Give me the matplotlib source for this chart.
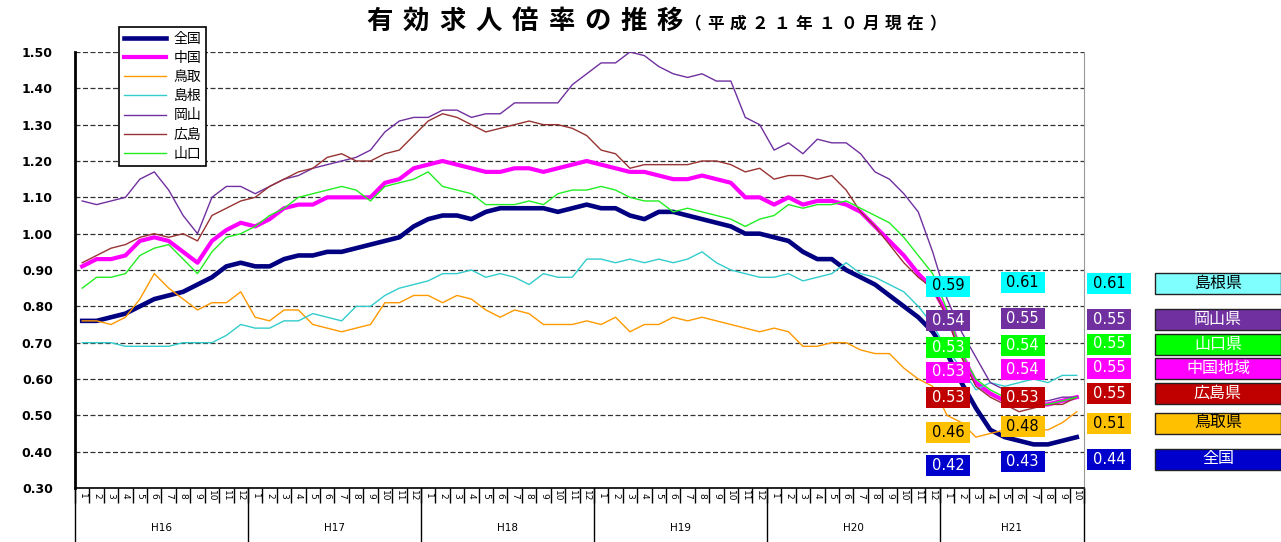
import numpy as np
import matplotlib.pyplot as plt
from matplotlib.patches import Rectangle
from matplotlib.lines import Line2D
import matplotlib.transforms as mtransforms

plt.rcParams['font.family'] = ['DejaVu Sans', 'Noto Sans CJK JP']

# H16/1 .. H21/10
years = ['H16', 'H17', 'H18', 'H19', 'H20', 'H21']
months_per_year = [12, 12, 12, 12, 12, 10]

zenkoku = [0.76, 0.76, 0.77, 0.78, 0.80, 0.82, 0.83, 0.84, 0.86, 0.88, 0.91, 0.92,
           0.91, 0.91, 0.93, 0.94, 0.94, 0.95, 0.95, 0.96, 0.97, 0.98, 0.99, 1.02,
           1.04, 1.05, 1.05, 1.04, 1.06, 1.07, 1.07, 1.07, 1.07, 1.06, 1.07, 1.08,
           1.07, 1.07, 1.05, 1.04, 1.06, 1.06, 1.05, 1.04, 1.03, 1.02, 1.00, 1.00,
           0.99, 0.98, 0.95, 0.93, 0.93, 0.90, 0.88, 0.86, 0.83, 0.80, 0.77, 0.73,
           0.67, 0.59, 0.52, 0.46, 0.44, 0.43, 0.42, 0.42, 0.43, 0.44]
chugoku = [0.91, 0.93, 0.93, 0.94, 0.98, 0.99, 0.98, 0.95, 0.92, 0.98, 1.01, 1.03,
           1.02, 1.04, 1.07, 1.08, 1.08, 1.10, 1.10, 1.10, 1.10, 1.14, 1.15, 1.18,
           1.19, 1.20, 1.19, 1.18, 1.17, 1.17, 1.18, 1.18, 1.17, 1.18, 1.19, 1.20,
           1.19, 1.18, 1.17, 1.17, 1.16, 1.15, 1.15, 1.16, 1.15, 1.14, 1.10, 1.10,
           1.08, 1.10, 1.08, 1.09, 1.09, 1.08, 1.06, 1.02, 0.98, 0.94, 0.89, 0.85,
           0.78, 0.67, 0.59, 0.56, 0.54, 0.53, 0.53, 0.53, 0.54, 0.55]
tottori = [0.76, 0.76, 0.75, 0.77, 0.82, 0.89, 0.85, 0.82, 0.79, 0.81, 0.81, 0.84,
           0.77, 0.76, 0.79, 0.79, 0.75, 0.74, 0.73, 0.74, 0.75, 0.81, 0.81, 0.83,
           0.83, 0.81, 0.83, 0.82, 0.79, 0.77, 0.79, 0.78, 0.75, 0.75, 0.75, 0.76,
           0.75, 0.77, 0.73, 0.75, 0.75, 0.77, 0.76, 0.77, 0.76, 0.75, 0.74, 0.73,
           0.74, 0.73, 0.69, 0.69, 0.70, 0.70, 0.68, 0.67, 0.67, 0.63, 0.60, 0.58,
           0.50, 0.48, 0.44, 0.45, 0.46, 0.46, 0.46, 0.46, 0.48, 0.51]
shimane = [0.70, 0.70, 0.70, 0.69, 0.69, 0.69, 0.69, 0.70, 0.70, 0.70, 0.72, 0.75,
           0.74, 0.74, 0.76, 0.76, 0.78, 0.77, 0.76, 0.80, 0.80, 0.83, 0.85, 0.86,
           0.87, 0.89, 0.89, 0.90, 0.88, 0.89, 0.88, 0.86, 0.89, 0.88, 0.88, 0.93,
           0.93, 0.92, 0.93, 0.92, 0.93, 0.92, 0.93, 0.95, 0.92, 0.90, 0.89, 0.88,
           0.88, 0.89, 0.87, 0.88, 0.89, 0.92, 0.89, 0.88, 0.86, 0.84, 0.80, 0.75,
           0.68, 0.63, 0.57, 0.59, 0.58, 0.59, 0.60, 0.59, 0.61, 0.61]
okayama = [1.09, 1.08, 1.09, 1.10, 1.15, 1.17, 1.12, 1.05, 1.00, 1.10, 1.13, 1.13,
           1.11, 1.13, 1.15, 1.16, 1.18, 1.19, 1.20, 1.21, 1.23, 1.28, 1.31, 1.32,
           1.32, 1.34, 1.34, 1.32, 1.33, 1.33, 1.36, 1.36, 1.36, 1.36, 1.41, 1.44,
           1.47, 1.47, 1.50, 1.49, 1.46, 1.44, 1.43, 1.44, 1.42, 1.42, 1.32, 1.30,
           1.23, 1.25, 1.22, 1.26, 1.25, 1.25, 1.22, 1.17, 1.15, 1.11, 1.06, 0.95,
           0.82, 0.73, 0.66, 0.59, 0.57, 0.55, 0.54, 0.54, 0.55, 0.55]
hiroshima = [0.92, 0.94, 0.96, 0.97, 0.99, 1.00, 0.99, 1.00, 0.98, 1.05, 1.07, 1.09,
             1.10, 1.13, 1.15, 1.17, 1.18, 1.21, 1.22, 1.20, 1.20, 1.22, 1.23, 1.27,
             1.31, 1.33, 1.32, 1.30, 1.28, 1.29, 1.30, 1.31, 1.30, 1.30, 1.29, 1.27,
             1.23, 1.22, 1.18, 1.19, 1.19, 1.19, 1.19, 1.20, 1.20, 1.19, 1.17, 1.18,
             1.15, 1.16, 1.16, 1.15, 1.16, 1.12, 1.06, 1.02, 0.97, 0.92, 0.88, 0.85,
             0.77, 0.66, 0.58, 0.55, 0.53, 0.51, 0.52, 0.53, 0.53, 0.55]
yamaguchi = [0.85, 0.88, 0.88, 0.89, 0.94, 0.96, 0.97, 0.93, 0.89, 0.95, 0.99, 1.00,
             1.02, 1.05, 1.07, 1.10, 1.11, 1.12, 1.13, 1.12, 1.09, 1.13, 1.14, 1.15,
             1.17, 1.13, 1.12, 1.11, 1.08, 1.08, 1.08, 1.09, 1.08, 1.11, 1.12, 1.12,
             1.13, 1.12, 1.10, 1.09, 1.09, 1.06, 1.07, 1.06, 1.05, 1.04, 1.02, 1.04,
             1.05, 1.08, 1.07, 1.08, 1.08, 1.09, 1.07, 1.05, 1.03, 0.99, 0.94, 0.89,
             0.79, 0.67, 0.60, 0.57, 0.55, 0.53, 0.53, 0.53, 0.54, 0.55]

names = ['全国', '中国', '鳥取', '島根', '岡山', '広島', '山口']
values = [zenkoku, chugoku, tottori, shimane, okayama, hiroshima, yamaguchi]
colors = ['#000080', '#FF00FF', '#FF9900', '#33CCCC', '#7030A0', '#993333', '#22EE22']
widths = [3.3, 3.0, 1.0, 1.0, 1.0, 1.0, 1.0]

# boxes on the right, top to bottom
box_order = ['島根', '岡山', '山口', '中国', '広島', '鳥取', '全国']
box_names = ['島根県', '岡山県', '山口県', '中国地域', '広島県', '鳥取県', '全国']
box_fc = ['#00FFFF', '#7030A0', '#00FF00', '#FF00FF', '#C00000', '#FFC000', '#0000CC']
box_tc = ['black', 'white', 'white', 'white', 'white', 'black', 'white']

W, H = 1281, 542
fig = plt.figure(figsize=(W / 100, H / 100), dpi=100)


def fx(x):
    return x / W


def fy(y):
    return 1 - y / H


ax = fig.add_axes([fx(75), fy(488), (1084 - 75) / W, (488 - 52) / H])

months = [m for n in months_per_year for m in range(1, n + 1)]
x = np.arange(len(months))

lines = []
for name, v, c, lw in zip(names, values, colors, widths):
    ln, = ax.plot(x, v, color=c, lw=lw, label=name, solid_joinstyle='round')
    lines.append(ln)

ax.set_xlim(-0.5, len(months) - 0.5)
ax.set_ylim(0.3, 1.5)
yt = np.round(np.arange(0.3, 1.501, 0.1), 2)
ax.set_yticks(yt)
ax.set_yticklabels([f'{t:.2f}' for t in yt], fontsize=9, fontweight='bold')
ax.tick_params(axis='y', length=0, pad=16)
ax.yaxis.grid(True, linestyle=(0, (4, 2)), color='#333333', linewidth=0.9)
ax.set_axisbelow(True)

ax.set_xticks(np.arange(-0.5, len(months), 1))
ax.tick_params(axis='x', length=11, width=1, labelbottom=False)

ax.spines['top'].set_visible(False)
ax.spines['right'].set_color('#999999')
ax.spines['left'].set_linewidth(2)
ax.spines['bottom'].set_linewidth(1.2)

trans = mtransforms.blended_transform_factory(ax.transData, ax.transAxes)
for i, m in enumerate(months):
    ax.text(i, -0.017, str(m), transform=trans, rotation=-90, ha='center',
            va='center', fontsize=6.5)

start = 0
for yname, n in zip(years, months_per_year):
    b = start - 0.5
    ax.add_line(Line2D([b, b], [0, -0.13], transform=trans, clip_on=False,
                       color='black', lw=1))
    ax.text(start + (n - 1) / 2, -0.092, yname, transform=trans, ha='center',
            va='center', fontsize=7.5)
    start += n
ax.add_line(Line2D([start - 0.5, start - 0.5], [0, -0.13], transform=trans,
                   clip_on=False, color='black', lw=1))


def spaced(x0, y, s, pitch, **kw):
    # title is drawn with wide letter spacing
    for k, ch in enumerate(s):
        fig.text(fx(x0 + k * pitch), fy(y), ch, ha='center', va='center', **kw)


spaced(380, 22, '有効求人倍率の推移', 36.2, fontsize=19, fontweight='bold')
spaced(693, 24, '（平成２１年１０月現在）', 22.2, fontsize=12, fontweight='bold')

# legend
leg = fig.legend(handles=lines, loc='upper left', bbox_to_anchor=(fx(119), fy(27)),
                 bbox_transform=fig.transFigure, fontsize=10, frameon=True,
                 fancybox=False, framealpha=1, edgecolor='black',
                 handlelength=3.0, handletextpad=0.6, labelspacing=0.37,
                 borderpad=0.35, borderaxespad=0)
leg.get_frame().set_linewidth(1.2)


def box(xc, yc, w, h, fc, text, tc, ec='none', fs=10.5):
    fig.add_artist(Rectangle((fx(xc - w / 2), fy(yc + h / 2)), w / W, h / H,
                             transform=fig.transFigure, facecolor=fc,
                             edgecolor=ec, lw=1, zorder=5))
    fig.text(fx(xc), fy(yc), text, color=tc, fontsize=fs, ha='center',
             va='center', zorder=6)


col_y = [[286, 320.5, 347, 372, 397.5, 432.5, 465.5],
         [282.5, 318.5, 345.5, 369.5, 397.5, 426.5, 461.5],
         [283, 319, 344, 368, 393.5, 423, 459]]
col_x = [948, 1022.5, 1109]
for c, (cx, ys) in enumerate(zip(col_x, col_y)):
    idx = len(months) - 3 + c
    for k, name in enumerate(box_order):
        v = values[names.index(name)][idx]
        box(cx, ys[k], 44, 21, box_fc[k], f'{v:.2f}', box_tc[k])

right_fc = ['#80FFFF'] + box_fc[1:]
for k, label in enumerate(box_names):
    box(1218, col_y[2][k], 126, 21, right_fc[k], label, box_tc[k], ec='#222222',
        fs=11.5)

fig.savefig('out.png', dpi=100)
